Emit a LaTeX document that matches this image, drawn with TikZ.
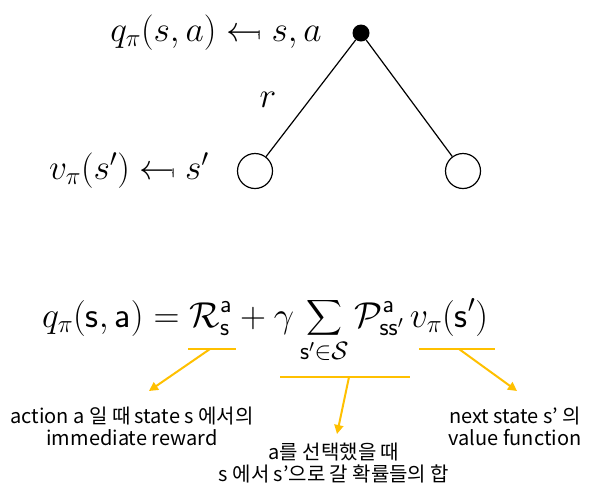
\RequirePackage{fix-cm}
\documentclass[tikz,border=0pt]{standalone}
\usepackage{amsmath}
\usepackage{stmaryrd}
\usepackage{fontspec}
\newfontfamily\korfont{Noto Sans CJK KR}
\usetikzlibrary{arrows.meta}
\definecolor{gold}{RGB}{255,192,0}

\begin{document}
\begin{tikzpicture}[x=1pt,y=-1pt,
  state/.style={circle,draw,line width=1.2pt,minimum size=35pt,inner sep=0pt},
  action/.style={circle,fill=black,minimum size=17pt,inner sep=0pt},
  bigmath/.style={inner sep=0pt,font=\fontsize{35.5}{40}\selectfont},
  underbar/.style={gold,line width=2.6pt},
  pointer/.style={gold,line width=2pt,-{Triangle[length=9pt,width=9pt]}},
  note/.style={inner sep=0pt,align=center,font=\korfont\fontsize{20}{22}\selectfont}]

  \useasboundingbox (0,0) rectangle (593,496);

  %% backup diagram
  \node[action] (sa) at (361,33) {};
  \node[state] (sl) at (255,171) {};
  \node[state] (sr) at (463,171) {};
  \draw[line width=1.2pt] (sa) -- (sl);
  \draw[line width=1.2pt] (sa) -- (sr);

  \node[bigmath,anchor=base east] (qlab) at (322,41) {$q_\pi(s,a) \mapsfrom s,a$};
  \node[bigmath,anchor=base east] (vlab) at (209,179) {$v_\pi(s') \mapsfrom s'$};
  \node[bigmath] (rlab) at (268,100) {$r$};

  %% equation
  \node[inner sep=0pt,anchor=base west,font=\fontsize{36}{40}\selectfont] (eq) at (42,327)
  {$\displaystyle q_\pi(\mathsf{s},\mathsf{a}) = \mathcal{R}^{\mathsf{a}}_{\mathsf{s}}
    + \gamma \sum_{\mathsf{s}'\in\mathcal{S}} \mathcal{P}^{\mathsf{a}}_{\mathsf{ss}'}\,
    v_\pi(\mathsf{s}')$};

  %% underlines
  \coordinate (rbarL) at (188,349);
  \coordinate (rbarR) at (236,349);
  \coordinate (pbarL) at (280,377);
  \coordinate (pbarR) at (410,377);
  \coordinate (vbarL) at (419,349);
  \coordinate (vbarR) at (495,349);
  \draw[underbar] (rbarL) -- (rbarR);
  \draw[underbar] (pbarL) -- (pbarR);
  \draw[underbar] (vbarL) -- (vbarR);

  %% notes
  \node[note] (rnote) at (132,426) {action a 일 때 state s 에서의\\immediate reward};
  \node[note] (pnote) at (334,463) {a를 선택했을 때\\s 에서 s’으로 갈 확률들의 합};
  \node[note] (vnote) at (515,426) {next state s’ 의\\value function};

  \coordinate (rfoot) at (210,349);
  \coordinate (rtip) at (149,391);
  \coordinate (pfoot) at (349,377);
  \coordinate (ptip) at (337,434);
  \coordinate (vfoot) at (459,349);
  \coordinate (vtip) at (517,391);
  \draw[pointer] (rfoot) -- (rtip);
  \draw[pointer] (pfoot) -- (ptip);
  \draw[pointer] (vfoot) -- (vtip);

\end{tikzpicture}
\end{document}
